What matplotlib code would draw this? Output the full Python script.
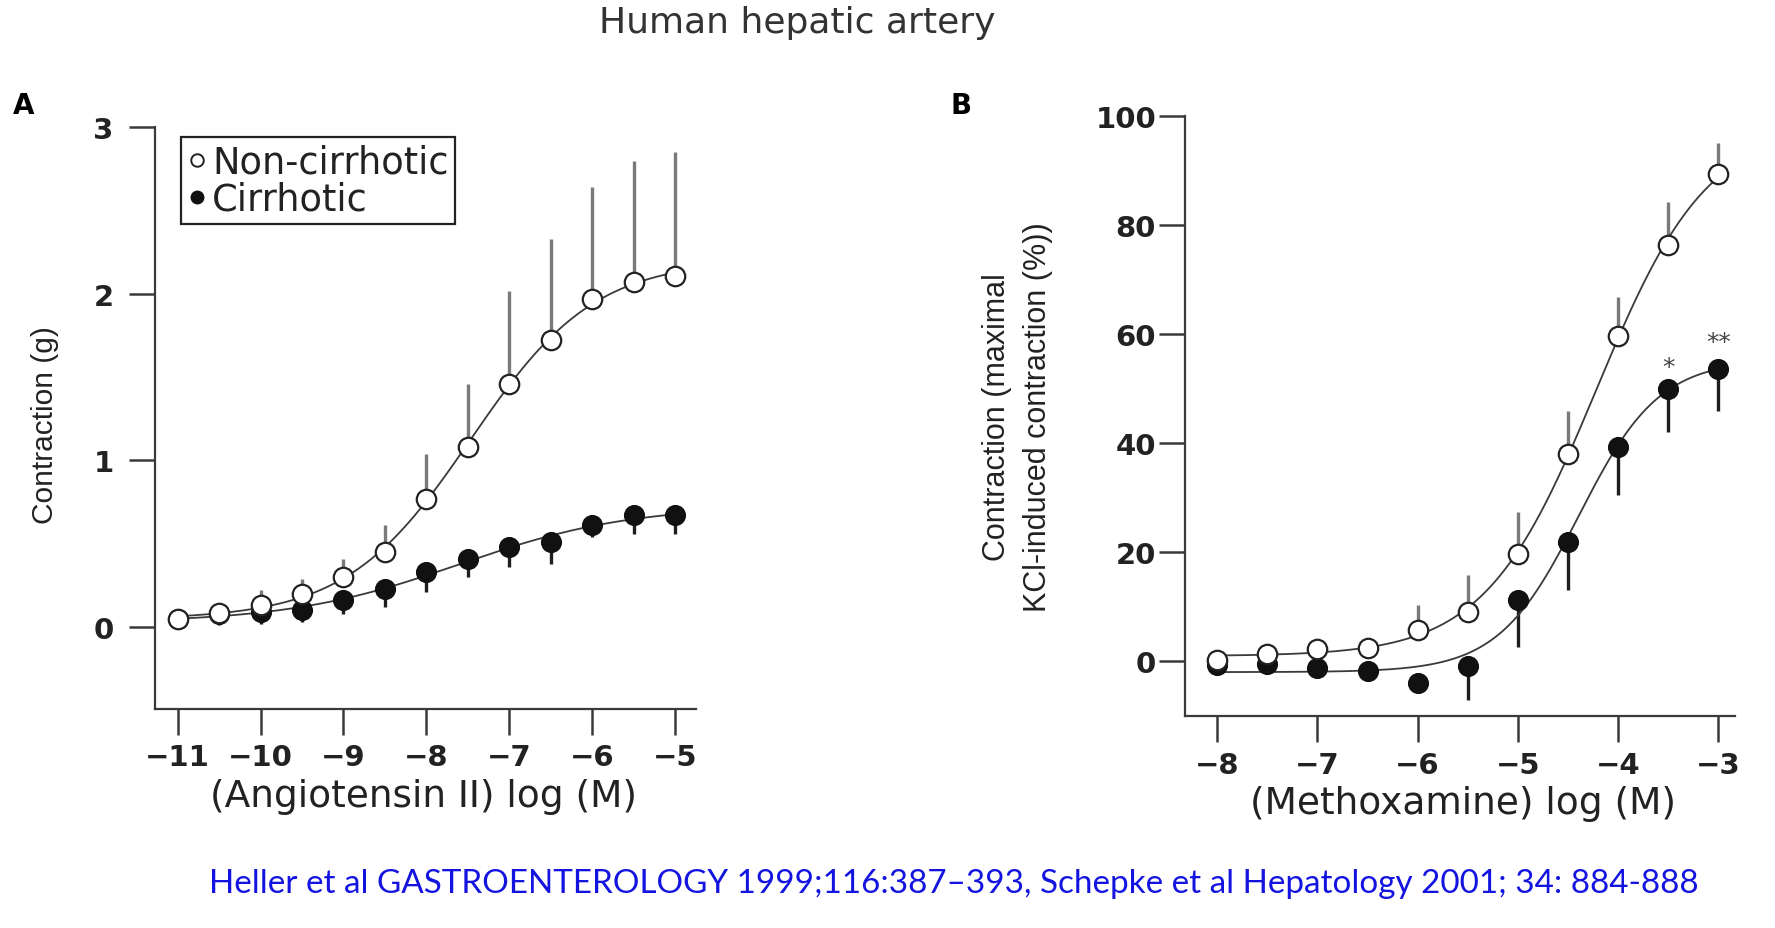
import numpy as np
import matplotlib
matplotlib.use("Agg")
import matplotlib.pyplot as plt
from matplotlib.lines import Line2D
from matplotlib import font_manager

# ---------------- data ----------------
xa = [-11, -10.5, -10, -9.5, -9, -8.5, -8, -7.5, -7, -6.5, -6, -5.5, -5]
non_a = [0.05, 0.085, 0.13, 0.20, 0.30, 0.45, 0.77, 1.08, 1.46, 1.72, 1.97, 2.07, 2.11]
non_a_err = [0, 0, 0.09, 0.09, 0.11, 0.16, 0.27, 0.38, 0.56, 0.61, 0.67, 0.73, 0.74]
cir_a = [0.05, 0.08, 0.09, 0.10, 0.16, 0.23, 0.33, 0.41, 0.48, 0.51, 0.61, 0.67, 0.67]
cir_a_err = [0, 0.07, 0.07, 0.07, 0.08, 0.11, 0.12, 0.11, 0.12, 0.13, 0.07, 0.11, 0.11]

xb = [-8, -7.5, -7, -6.5, -6, -5.5, -5, -4.5, -4, -3.5, -3]
non_b = [0.3, 1.4, 2.2, 2.5, 5.8, 9.0, 19.7, 38.0, 59.7, 76.4, 89.4]
non_b_err = [0, 0, 0, 0, 4.6, 6.8, 7.7, 8.0, 7.1, 7.8, 5.6]
cir_b = [-0.6, -0.4, -1.2, -1.8, -4.0, -0.8, 11.2, 21.8, 39.4, 50.0, 53.7]
cir_b_err = [0, 0, 0, 0, 0, 6.2, 8.5, 8.7, 8.9, 7.9, 7.7]

star_x = [-3.5, -3]
star_y = [54, 58.5]
star_txt = ["*", "**"]

xticks_a = [-11, -10, -9, -8, -7, -6, -5]
yticks_a = [0, 1, 2, 3]
xticks_b = [-8, -7, -6, -5, -4, -3]
yticks_b = [0, 20, 40, 60, 80, 100]

legend_labels = ["Non-cirrhotic", "Cirrhotic"]
title = "Human hepatic artery"
citation = "Heller et al GASTROENTEROLOGY 1999;116:387\u2013393, Schepke et al Hepatology 2001; 34: 884-888"

# ---------------- helpers ----------------
names = {f.name for f in font_manager.fontManager.ttflist}
narrow = "Liberation Sans Narrow" if "Liberation Sans Narrow" in names else "Liberation Sans"
wide = "DejaVu Sans"


def fit_logistic(x, y):
    x = np.asarray(x, float)
    y = np.asarray(y, float)
    best = None
    for c in np.linspace(x.min() - 1, x.max() + 1, 241):
        for h in np.linspace(0.3, 2.5, 111):
            s = 1.0 / (1.0 + 10 ** (h * (c - x)))
            A = np.column_stack([1 - s, s])
            coef, *_ = np.linalg.lstsq(A, y, rcond=None)
            sse = np.sum((A @ coef - y) ** 2)
            if best is None or sse < best[0]:
                best = (sse, c, h, coef)
    _, c, h, (b, t) = best
    return lambda xx: b + (t - b) / (1.0 + 10 ** (h * (c - xx)))


fig = plt.figure(figsize=(17.75, 9.29), dpi=100)
renderer = fig.canvas.get_renderer()


def fit_size(txt, target_px, vertical=False):
    for _ in range(3):
        bb = txt.get_window_extent(renderer=renderer)
        cur = bb.height if vertical else bb.width
        txt.set_fontsize(txt.get_fontsize() * target_px / cur)


line_col = "#3a3a3a"


def style_axes(ax, xt, yt, xlim, ylim, ypad):
    ax.set_xlim(*xlim)
    ax.set_ylim(*ylim)
    for s in ["top", "right"]:
        ax.spines[s].set_visible(False)
    for s in ["left", "bottom"]:
        ax.spines[s].set_linewidth(1.6)
        ax.spines[s].set_color(line_col)
    ax.spines["left"].set_bounds(ylim[0], yt[-1])
    ax.set_xticks(xt)
    ax.set_yticks(yt)
    ax.set_xticklabels([f"\u2212{abs(v)}" for v in xt])
    ax.set_yticklabels([str(v) for v in yt])
    ax.tick_params(axis="both", direction="out", length=19, width=1.8, color=line_col,
                   labelsize=21, labelcolor="#222222")
    ax.tick_params(axis="x", pad=6)
    ax.tick_params(axis="y", pad=ypad)
    for lab in ax.get_xticklabels() + ax.get_yticklabels():
        lab.set_fontweight("bold")
        lab.set_family(wide)


def draw_series(ax, x, yo, eo, yc, ec, curve_lo, curve_hi):
    x = np.asarray(x, float)
    yo = np.asarray(yo, float)
    yc = np.asarray(yc, float)
    eo = np.asarray(eo, float)
    ec = np.asarray(ec, float)
    xx = np.linspace(curve_lo, curve_hi, 400)
    fo = fit_logistic(x, yo)
    fc = fit_logistic(x, yc)
    ax.plot(xx, fo(xx), color=line_col, lw=1.3, zorder=2)
    ax.plot(xx, fc(xx), color=line_col, lw=1.3, zorder=2)
    mo = eo > 0
    ax.vlines(x[mo], yo[mo], yo[mo] + eo[mo], color="#7a7a7a", lw=2.4, zorder=1)
    mc = ec > 0
    ax.vlines(x[mc], yc[mc] - ec[mc], yc[mc], color="#1e1e1e", lw=2.4, zorder=1)
    ax.plot(x, yc, "o", ms=14, mfc="#111111", mec="#111111", mew=1.2, zorder=3, ls="none")
    ax.plot(x, yo, "o", ms=14, mfc="white", mec="#222222", mew=1.6, zorder=4, ls="none")


# ---------------- panel A ----------------
axA = fig.add_axes([0.0875, 0.236, 0.3045, 0.626])
style_axes(axA, xticks_a, yticks_a, (-11.27, -4.75), (-0.49, 3.0), ypad=11)
draw_series(axA, xa, non_a, non_a_err, cir_a, cir_a_err, xa[0], xa[-1])
axA.set_xlabel("(Angiotensin II) log (M)", family=wide, fontsize=27, color="#222222")
axA.xaxis.set_label_coords(0.496, -0.150)
axA.xaxis.label.set_va("center")
ylA = axA.set_ylabel("Contraction (g)", family=narrow, fontsize=22, color="#222222")
axA.yaxis.set_label_coords(-0.205, 0.489)
axA.yaxis.label.set_va("center")

handles = [Line2D([], [], marker="o", ls="none", ms=9, mfc="white", mec="#222222", mew=1.4),
           Line2D([], [], marker="o", ls="none", ms=9, mfc="#111111", mec="#111111")]
leg = axA.legend(handles, legend_labels, loc="upper left", bbox_to_anchor=(0.047, 0.983),
                 frameon=True, fancybox=False, edgecolor="#222222", framealpha=1,
                 handlelength=0.55, handletextpad=0.12, borderpad=0.18, labelspacing=0.0,
                 borderaxespad=0, prop={"family": wide, "size": 26.5})
leg.get_frame().set_linewidth(1.6)
for t in leg.get_texts():
    t.set_color("#222222")

# ---------------- panel B ----------------
axB = fig.add_axes([0.6677, 0.2283, 0.3099, 0.6457])
style_axes(axB, xticks_b, yticks_b, (-8.32, -2.83), (-10, 100), ypad=2)
draw_series(axB, xb, non_b, non_b_err, cir_b, cir_b_err, xb[0], xb[-1])
for sx, sy, st in zip(star_x, star_y, star_txt):
    axB.text(sx, sy, st, ha="center", va="center", fontsize=18, color="#444444", family=wide)
axB.set_xlabel("(Methoxamine) log (M)", family=wide, fontsize=27, color="#222222")
axB.xaxis.set_label_coords(0.505, -0.146)
axB.xaxis.label.set_va("center")
axB.set_ylabel("Contraction (maximal\nKCl-induced contraction (%))", family=narrow,
               fontsize=22, color="#222222", linespacing=1.5)
axB.yaxis.set_label_coords(-0.305, 0.5)
axB.yaxis.label.set_va("center")

# ---------------- figure texts ----------------
fig.text(0.449, 0.975, title, ha="center", va="center", family=wide, fontsize=26, color="#333333")
fig.text(0.0135, 0.886, "A", ha="center", va="center", family=wide, fontsize=20, fontweight="bold")
fig.text(0.5415, 0.886, "B", ha="center", va="center", family=wide, fontsize=20, fontweight="bold")
cit = fig.text(0.5375, 0.048, citation, ha="center", va="center", family="Lato",
               fontsize=28, color="#1414e0")
fit_size(cit, 1490)

fit_size(axA.yaxis.label, 198, vertical=True)

fig.savefig("out.png", dpi=100)
